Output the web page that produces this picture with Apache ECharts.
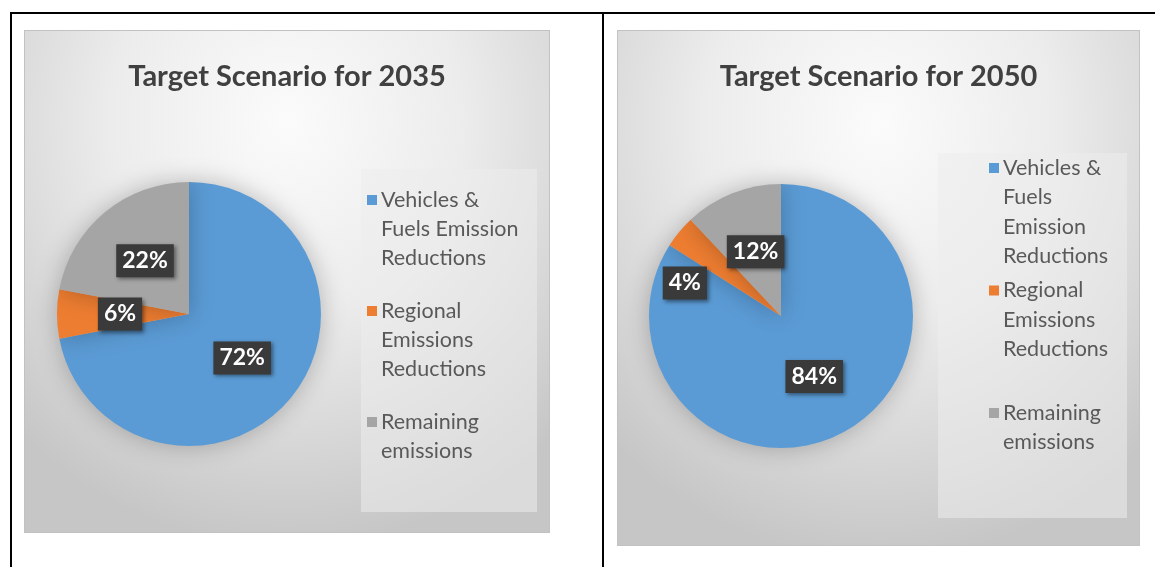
<!DOCTYPE html>
<html>
<head>
<meta charset="utf-8">
<title>Target Scenarios</title>
<script src="https://cdn.jsdelivr.net/npm/echarts@6/dist/echarts.min.js"></script>
<style>
  body { margin: 0; background: #fff; width: 1155px; height: 567px; overflow: hidden; position: relative; }
  .rule { position: absolute; background: #000; }
  .panel {
    position: absolute;
    box-sizing: border-box;
    border: 1px solid #c2c2c2;
    background: radial-gradient(ellipse 75% 85% at 50% 18%, #fbfbfb 0%, #ececec 45%, #d4d4d4 80%, #c6c6c6 100%);
  }
</style>
</head>
<body>
<div class="rule" style="left:10px;top:12px;width:1145px;height:2px"></div>
<div class="rule" style="left:10px;top:12px;width:2px;height:555px"></div>
<div class="rule" style="left:602px;top:12px;width:2px;height:555px"></div>
<div id="c2035" class="panel" style="left:24px;top:30px;width:526px;height:503px"></div>
<div id="c2050" class="panel" style="left:617px;top:30px;width:523px;height:516px"></div>

<script>
var categories = ['Vehicles & Fuels Emission Reductions', 'Regional Emissions Reductions', 'Remaining emissions']
var values2035 = [72, 6, 22]
var values2050 = [84, 4, 12]
var titles = ['Target Scenario for 2035', 'Target Scenario for 2050']
// how each legend entry wraps in the original
var legendLines2035 = [['Vehicles &', 'Fuels Emission', 'Reductions'], ['Regional', 'Emissions', 'Reductions'], ['Remaining', 'emissions']]
var legendLines2050 = [['Vehicles &', 'Fuels', 'Emission', 'Reductions'], ['Regional', 'Emissions', 'Reductions', ''], ['Remaining', 'emissions']]

var colors = ['#5b9bd5', '#ed7d31', '#a5a5a5']
var font = 'Lato, "Open Sans", sans-serif'

function legendFormatter(lines) {
  return function(name) {
    var i = categories.indexOf(name)
    return lines[i].map(function(t, j) {
      return (j === 0 ? '{m' + i + '|}' : '{pad|}') + '{t|' + t + '}'
    }).join('\n')
  }
}

function legendRich(lineHeight) {
  var rich = {
    pad: { width: 10, lineHeight: lineHeight },
    t: { fontSize: 21.5, color: '#595959', fontFamily: font, lineHeight: lineHeight, padding: [0, 0, 0, 4] }
  }
  colors.forEach(function(c, i) {
    rich['m' + i] = { width: 10, height: 10, backgroundColor: c, lineHeight: lineHeight }
  })
  return rich
}

function buildOption(cfg) {
  var data = cfg.values.map(function(v, i) {
    var item = { name: categories[i], value: v }
    if (cfg.labelOffsets && cfg.labelOffsets[i]) {
      item.label = { offset: cfg.labelOffsets[i] }
    }
    return item
  })
  return {
    color: colors,
    title: {
      text: cfg.title,
      left: 'center',
      top: 26,
      textStyle: { fontFamily: font, fontSize: 29, fontWeight: 'bold', color: '#404040' }
    },
    legend: {
      orient: 'vertical',
      left: cfg.legendLeft,
      top: cfg.legendTop,
      padding: 0,
      itemGap: cfg.legendGap,
      itemWidth: 0,
      itemHeight: 0,
      selectedMode: false,
      data: categories,
      formatter: legendFormatter(cfg.legendLines),
      textStyle: { rich: legendRich(cfg.lineHeight) }
    },
    graphic: [{
      type: 'rect',
      z: -1,
      silent: true,
      shape: cfg.legendBox,
      style: { fill: 'rgba(236,236,236,0.55)' }
    }],
    series: [{
      type: 'pie',
      center: cfg.center,
      radius: 132,
      startAngle: 90,
      clockwise: true,
      animation: false,
      emphasis: { disabled: true },
      itemStyle: {
        borderWidth: 0,
        shadowBlur: 24,
        shadowColor: 'rgba(0,0,0,0.25)'
      },
      label: {
        position: 'inside',
        formatter: '{c}%',
        fontFamily: font,
        fontSize: 23,
        fontWeight: 'bold',
        color: '#fff',
        backgroundColor: '#3a3a3a',
        padding: [6, 6, 4, 6],
        shadowBlur: 4,
        shadowOffsetX: 2,
        shadowOffsetY: 2,
        shadowColor: 'rgba(0,0,0,0.45)'
      },
      labelLine: { show: false },
      data: data
    }]
  }
}

var chart2035 = echarts.init(document.getElementById('c2035'))
chart2035.setOption(buildOption({
  title: titles[0],
  values: values2035,
  center: [164, 283],
  legendLines: legendLines2035,
  lineHeight: 29,
  legendLeft: 337,
  legendTop: 158,
  legendGap: 31,
  legendBox: { x: 336, y: 138, width: 176, height: 343 }
}))

var chart2050 = echarts.init(document.getElementById('c2050'))
chart2050.setOption(buildOption({
  title: titles[1],
  values: values2050,
  center: [163, 285],
  labelOffsets: [null, [-43, 11], null],
  legendLines: legendLines2050,
  lineHeight: 29.5,
  legendLeft: 366,
  legendTop: 126,
  legendGap: 12,
  legendBox: { x: 320, y: 122, width: 189, height: 365 }
}))
</script>
</body>
</html>
